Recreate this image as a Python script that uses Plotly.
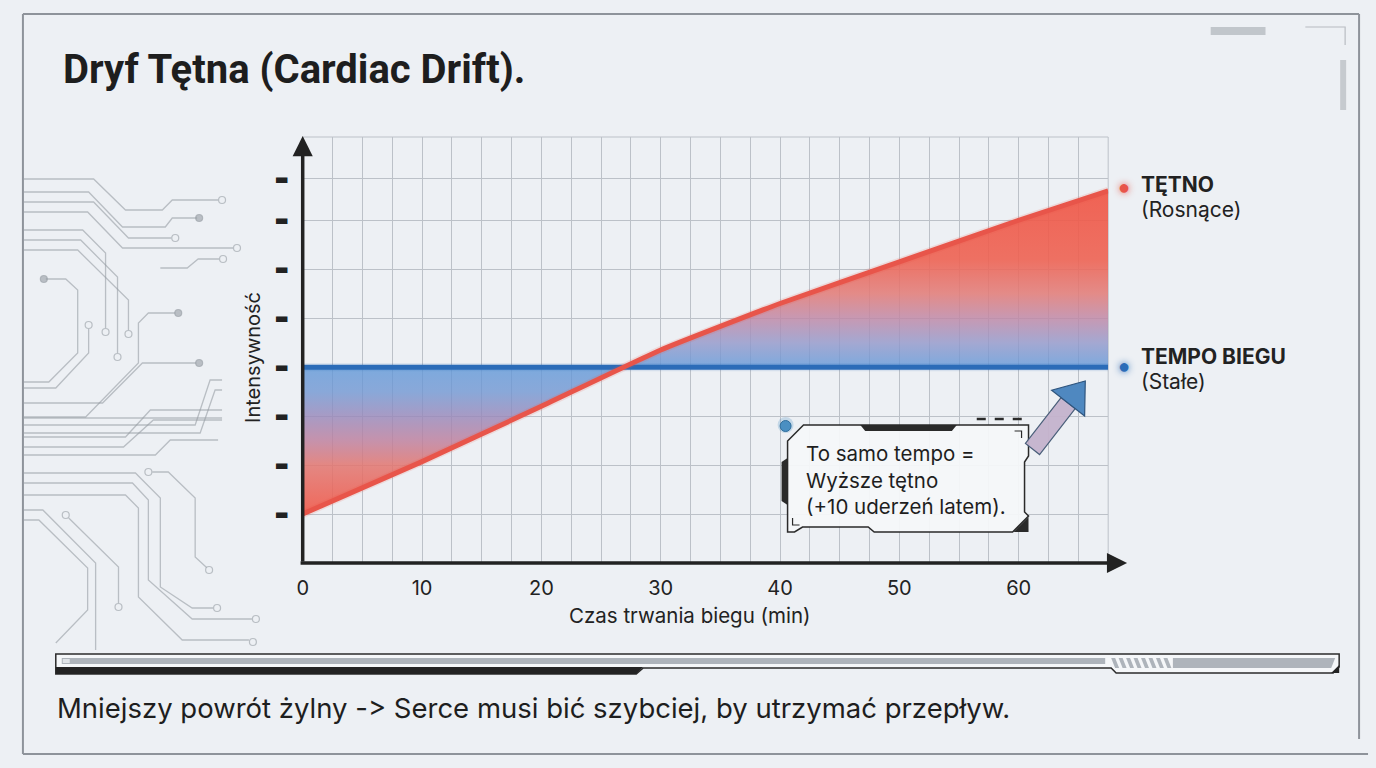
import math
import plotly.graph_objects as go

# ---------------- data ----------------
minutes = [0, 10, 20, 30, 40, 50, 60, 67.5]
heart_rate = [1.0, 2.07, 3.2, 4.35, 5.3, 6.15, 7.0, 7.6]
pace_minutes = [0, 67.5]
pace = [4.0, 4.0]
x_ticks = [0, 10, 20, 30, 40, 50, 60]
y_ticks = [1, 2, 3, 4, 5, 6, 7, 7.85]
x_range = [0, 67.5]
y_range = [0, 8.7]

W, H = 1376, 768
BG = "#edf0f4"
RED = "#e8554a"
BLUE = "#2b6cb8"
FONT = "Inter, Liberation Sans, sans-serif"


def PX(x):
    return x / W


def PY(y):
    return 1 - y / H


def path(points, close=True):
    s = "M " + " L ".join(f"{PX(x):.5f},{PY(y):.5f}" for x, y in points)
    return s + (" Z" if close else "")


shapes = []
annotations = []


def poly(points, fill, line=None, width=0, close=True, layer="above"):
    shapes.append(dict(type="path", xref="paper", yref="paper", path=path(points, close),
                       fillcolor=fill if close else None,
                       line=dict(color=line if line else "rgba(0,0,0,0)", width=width),
                       layer=layer))


def circle(cx, cy, r, fill, line=None, width=1, layer="above"):
    shapes.append(dict(type="circle", xref="paper", yref="paper",
                       x0=PX(cx - r), x1=PX(cx + r), y0=PY(cy + r), y1=PY(cy - r),
                       fillcolor=fill, line=dict(color=line if line else "rgba(0,0,0,0)", width=width),
                       layer=layer))


# ---------------- traces ----------------
lo, hi = min(heart_rate), max(heart_rate)


def frac(v):
    return max(0.0, min(1.0, (v - lo) / (hi - lo)))


grad = [
    [frac(1.0), "rgba(241,88,72,0.90)"],
    [frac(2.0), "rgba(226,118,112,0.86)"],
    [frac(2.5), "rgba(190,128,158,0.84)"],
    [frac(3.0), "rgba(152,136,186,0.82)"],
    [frac(3.5), "rgba(112,150,210,0.80)"],
    [frac(4.0), "rgba(96,152,216,0.80)"],
    [frac(4.5), "rgba(148,152,202,0.82)"],
    [frac(5.0), "rgba(192,136,166,0.84)"],
    [frac(5.5), "rgba(226,124,120,0.87)"],
    [frac(6.2), "rgba(238,98,82,0.90)"],
    [frac(7.6), "rgba(240,86,70,0.92)"],
]

fig = go.Figure()
fig.add_trace(go.Scatter(x=pace_minutes, y=pace, mode="lines",
                         line=dict(width=0, color="rgba(0,0,0,0)"), hoverinfo="skip", showlegend=False))
fig.add_trace(go.Scatter(x=minutes, y=heart_rate, mode="lines", fill="tonexty",
                         line=dict(width=0, color="rgba(0,0,0,0)", shape="spline", smoothing=0.4),
                         fillgradient=dict(type="vertical", start=lo, stop=hi, colorscale=grad),
                         hoverinfo="skip", showlegend=False))
fig.add_trace(go.Scatter(x=pace_minutes, y=pace, mode="lines",
                         line=dict(width=8, color="rgba(43,108,184,0.12)"), hoverinfo="skip", showlegend=False))
fig.add_trace(go.Scatter(x=pace_minutes, y=pace, mode="lines",
                         line=dict(width=5, color=BLUE), name="Tempo biegu", showlegend=False))
fig.add_trace(go.Scatter(x=minutes, y=heart_rate, mode="lines",
                         line=dict(width=8, color="rgba(232,85,74,0.15)", shape="spline", smoothing=0.4),
                         hoverinfo="skip", showlegend=False))
fig.add_trace(go.Scatter(x=minutes, y=heart_rate, mode="lines",
                         line=dict(width=5, color=RED, shape="spline", smoothing=0.4),
                         name="Tętno", showlegend=False))

# ---------------- decorations ----------------
FRAME = "#8e939a"
for x0, y0, x1, y1 in [(17, 14, 17, 754), (17, 14, 1359, 14), (1359, 14, 1359, 739), (17, 754, 1368, 754)]:
    shapes.append(dict(type="line", xref="paper", yref="paper", x0=PX(x0), x1=PX(x1), y0=PY(y0), y1=PY(y1),
                       line=dict(color=FRAME, width=2), layer="below"))

# circuit lines (left decoration)
CIRC = "rgba(150,156,164,0.6)"
circuit = [
    ([(17, 179), (88, 179), (120, 210), (157, 210), (167, 200), (213, 200)], (217, 200), False),
    ([(17, 192), (83, 192), (117, 227), (160, 227), (167, 218), (192, 218)], (194, 218), True),
    ([(17, 202), (88, 202), (123, 238), (166, 238)], (170, 238), False),
    ([(17, 212), (82, 212), (117, 248), (228, 248)], (232, 248), False),
    ([(155, 268), (182, 268), (193, 259), (214, 259)], (218, 259), False),
    ([(17, 230), (77, 230), (100, 253), (100, 328)], (100, 332), False),
    ([(17, 240), (75, 240), (112, 277), (112, 353)], (112, 357), False),
    ([(17, 250), (72, 250), (123, 300), (123, 330)], (123, 334), False),
    ([(40, 279), (60, 279), (72, 290), (72, 353), (43, 382), (17, 382)], (38, 279), True),
    ([(83, 329), (83, 353), (50, 388), (17, 388)], (83, 325), False),
    ([(170, 313), (143, 313), (133, 323), (133, 363), (80, 417), (17, 417)], (173, 313), True),
    ([(191, 363), (137, 363), (97, 403), (17, 403)], (194, 363), True),
    ([(17, 425), (190, 425), (205, 380), (217, 380)], None, False),
    ([(17, 433), (195, 433), (210, 390), (217, 390)], None, False),
    ([(17, 418), (217, 418)], None, False),
    ([(17, 437), (120, 437), (145, 410), (217, 410)], None, False),
    ([(17, 447), (118, 447), (148, 420), (217, 420)], None, False),
    ([(17, 455), (150, 455), (165, 440), (213, 440)], None, False),
    ([(17, 473), (130, 473), (155, 498), (155, 587), (187, 608), (208, 608)], (212, 608), False),
    ([(17, 483), (127, 483), (143, 500), (143, 580), (187, 619), (247, 619)], (251, 619), False),
    ([(17, 495), (120, 495), (133, 508), (133, 597), (177, 640), (244, 640)], (248, 642), False),
    ([(147, 472), (163, 472), (190, 498), (190, 557), (202, 568)], (204, 570), False),
    ([(63, 518), (113, 567), (113, 603)], (113, 607), False),
    ([(17, 510), (37, 510), (90, 563), (90, 650)], None, False),
    ([(17, 520), (33, 520), (82, 568), (82, 610), (50, 643)], None, False),
]
for pts, end, filled in circuit:
    poly(pts, None, line=CIRC, width=1.3, close=False, layer="below")
    if end:
        circle(end[0], end[1], 3.5, CIRC if filled else BG, line=CIRC, width=1.2, layer="below")
circle(60, 515, 3.5, BG, line=CIRC, width=1.2, layer="below")
circle(143, 472, 3.5, BG, line=CIRC, width=1.2, layer="below")

# top-right small decorations
poly([(1210, 27), (1265, 27), (1265, 35), (1210, 35)], "rgba(150,155,162,0.5)", layer="below")
poly([(1305, 27), (1345, 27), (1345, 45)], None, line="rgba(150,155,162,0.6)", width=1.2, close=False, layer="below")
poly([(1340, 60), (1346, 60), (1346, 110), (1340, 110)], "rgba(150,155,162,0.45)", layer="below")

# grid frame (top and right border of the grid)
shapes.append(dict(type="rect", xref="x domain", yref="y domain", x0=0, x1=1, y0=0, y1=1,
                   line=dict(color="#bcc1c8", width=1), layer="below"))

# callout box
poly([(785, 441), (801, 425), (1027, 425), (1027, 456), (1023, 462), (1023, 512), (1027, 516),
      (1011, 532), (872, 532), (866, 527), (800, 527), (792, 532), (785, 532)],
     "rgba(245,247,249,0.94)", line="#2a2a2a", width=1.5)
poly([(858, 425), (955, 425), (950, 431), (863, 431)], "#2a2a2a")
poly([(779, 462), (785, 458), (785, 505), (779, 501)], "#2a2a2a")
poly([(1012, 532), (1027, 532), (1027, 517)], "#2a2a2a")
poly([(1013, 431), (1020, 431), (1020, 438)], None, line="#2a2a2a", width=1.2, close=False)
poly([(790, 518), (790, 525), (797, 525)], None, line="#2a2a2a", width=1.2, close=False)
shapes.append(dict(type="line", xref="paper", yref="paper", x0=PX(975), x1=PX(1027), y0=PY(419), y1=PY(419),
                   line=dict(color="#2a2a2a", width=2.5, dash="dash")))
circle(783, 425, 8, "rgba(74,144,194,0.25)")
circle(783, 426, 5.5, "#4a8fc2", line="#2e6d9c", width=1)

# callout arrow (tail pinkish, head blue)
T = (1031, 449)
Hh = (1084, 381)
dx, dy = Hh[0] - T[0], Hh[1] - T[1]
L = math.hypot(dx, dy)
ux, uy = dx / L, dy / L
nx, ny = -uy, ux
B = (Hh[0] - ux * 28, Hh[1] - uy * 28)
sw, hw = 9, 21
poly([(T[0] + nx * sw, T[1] + ny * sw), (B[0] + nx * sw, B[1] + ny * sw),
      (B[0] - nx * sw, B[1] - ny * sw), (T[0] - nx * sw, T[1] - ny * sw)],
     "rgba(196,178,204,0.95)", line="#4a5f7a", width=1.2)
poly([(B[0] + nx * hw, B[1] + ny * hw), Hh, (B[0] - nx * hw, B[1] - ny * hw)],
     "#4f88c0", line="#2f557e", width=1.2)

# bottom decorative bar
poly([(50, 654), (1339, 654), (1339, 667), (1333, 673), (1115, 673), (1110, 668), (640, 668), (633, 674),
      (50, 674)], "#f5f7f9", line="#2b2b2b", width=1.5)
poly([(50, 667), (640, 667), (633, 674), (50, 674)], "#232323")
poly([(56, 658), (1104, 658), (1104, 664), (56, 664)], "#aeb4bb")
poly([(57, 659), (64, 659), (64, 663), (57, 663)], "#dfe3e7")
for i in range(8):
    x0 = 1110 + i * 7.5
    poly([(x0, 658), (x0 + 4, 658), (x0 + 8, 668), (x0 + 4, 668)], "#aeb4bb")
poly([(1172, 658), (1335, 658), (1331, 668), (1172, 668)], "#aeb4bb")
poly([(1331, 673), (1339, 665), (1339, 673)], "#232323")

# ---------------- text ----------------
annotations.append(dict(xref="paper", yref="paper", x=PX(55), y=PY(69), xanchor="left", yanchor="middle",
                        text="<b>Dryf Tętna (Cardiac Drift).</b>", showarrow=False,
                        font=dict(family="Roboto, sans-serif", size=40, color="#1e1e1e")))
annotations.append(dict(xref="paper", yref="paper", x=PX(49), y=PY(708), xanchor="left", yanchor="middle",
                        text="Mniejszy powrót żylny -\u200c> Serce musi bić szybciej, by utrzymać przepływ.",
                        showarrow=False, font=dict(family=FONT, size=27.5, color="#1e1e1e")))
annotations.append(dict(xref="paper", yref="paper", x=PX(687), y=PY(615), xanchor="center", yanchor="middle",
                        text="Czas trwania biegu (min)", showarrow=False,
                        font=dict(family=FONT, size=20.5, color="#222")))
annotations.append(dict(xref="paper", yref="paper", x=PX(248), y=PY(357), xanchor="center", yanchor="middle",
                        text="Intensywność", textangle=-90, showarrow=False,
                        font=dict(family=FONT, size=20, color="#222")))
annotations.append(dict(xref="paper", yref="paper", x=PX(801), y=PY(439), xanchor="left", yanchor="top",
                        align="left", text="To samo tempo =<br>Wyższe tętno<br>(+10 uderzeń latem).",
                        showarrow=False, font=dict(family=FONT, size=20.5, color="#1e1e1e")))

# axis arrows
annotations.append(dict(xref="paper", yref="paper", x=PX(298), y=PY(136), ax=0, ay=427, axref="pixel",
                        ayref="pixel", text="", showarrow=True, arrowhead=2, arrowsize=1.15, arrowwidth=3.5,
                        arrowcolor="#222"))
annotations.append(dict(xref="paper", yref="paper", x=PX(1126), y=PY(563), ax=-828, ay=0, axref="pixel",
                        ayref="pixel", text="", showarrow=True, arrowhead=2, arrowsize=1.15, arrowwidth=3.5,
                        arrowcolor="#222"))

# series labels at the right end
for yv, col, glow, title, sub, ts, ss, ds in [
    (heart_rate[-1], RED, "rgba(232,85,74,0.9)", "TĘTNO", "(Rosnące)", 6, -19, 4),
    (pace[-1], BLUE, "rgba(43,108,184,0.9)", "TEMPO BIEGU", "(Stałe)", 11, -14, 2),
]:
    annotations.append(dict(xref="x domain", yref="y", x=1, y=yv, xshift=16, yshift=ds, text="●",
                            showarrow=False, xanchor="center", yanchor="middle",
                            font=dict(size=20, color=col, shadow=f"0px 0px 7px {glow}")))
    annotations.append(dict(xref="x domain", yref="y", x=1, y=yv, xshift=31, yshift=ts,
                            text=f"<b>{title}</b>", showarrow=False, xanchor="left", yanchor="middle",
                            font=dict(family=FONT, size=21, color="#222")))
    annotations.append(dict(xref="x domain", yref="y", x=1, y=yv, xshift=31, yshift=ss,
                            text=sub, showarrow=False, xanchor="left", yanchor="middle",
                            font=dict(family=FONT, size=21, color="#222")))

GRID = "#bcc1c8"
fig.update_layout(
    width=W, height=H, margin=dict(l=0, r=0, t=0, b=0),
    paper_bgcolor=BG, plot_bgcolor="rgba(0,0,0,0)",
    showlegend=False, shapes=shapes, annotations=annotations,
    xaxis=dict(domain=[PX(298), PX(1107)], range=x_range, tickvals=x_ticks,
               ticktext=[str(v) for v in x_ticks], showline=False, zeroline=False,
               showgrid=True, gridcolor=GRID, gridwidth=1,
               minor=dict(dtick=2.5, tick0=0, showgrid=True, gridcolor=GRID, gridwidth=1),
               ticks="outside", ticklen=7, tickcolor="rgba(0,0,0,0)",
               tickfont=dict(family=FONT, size=20, color="#222")),
    yaxis=dict(domain=[PY(563), PY(137)], range=y_range, tickvals=y_ticks,
               ticktext=["▬"] * len(y_ticks), showline=False, zeroline=False,
               showgrid=True, gridcolor=GRID, gridwidth=1,
               ticks="outside", ticklen=10, tickcolor="rgba(0,0,0,0)",
               tickfont=dict(family="DejaVu Sans", size=15, color="#222")),
)

fig.write_html("out.html")
